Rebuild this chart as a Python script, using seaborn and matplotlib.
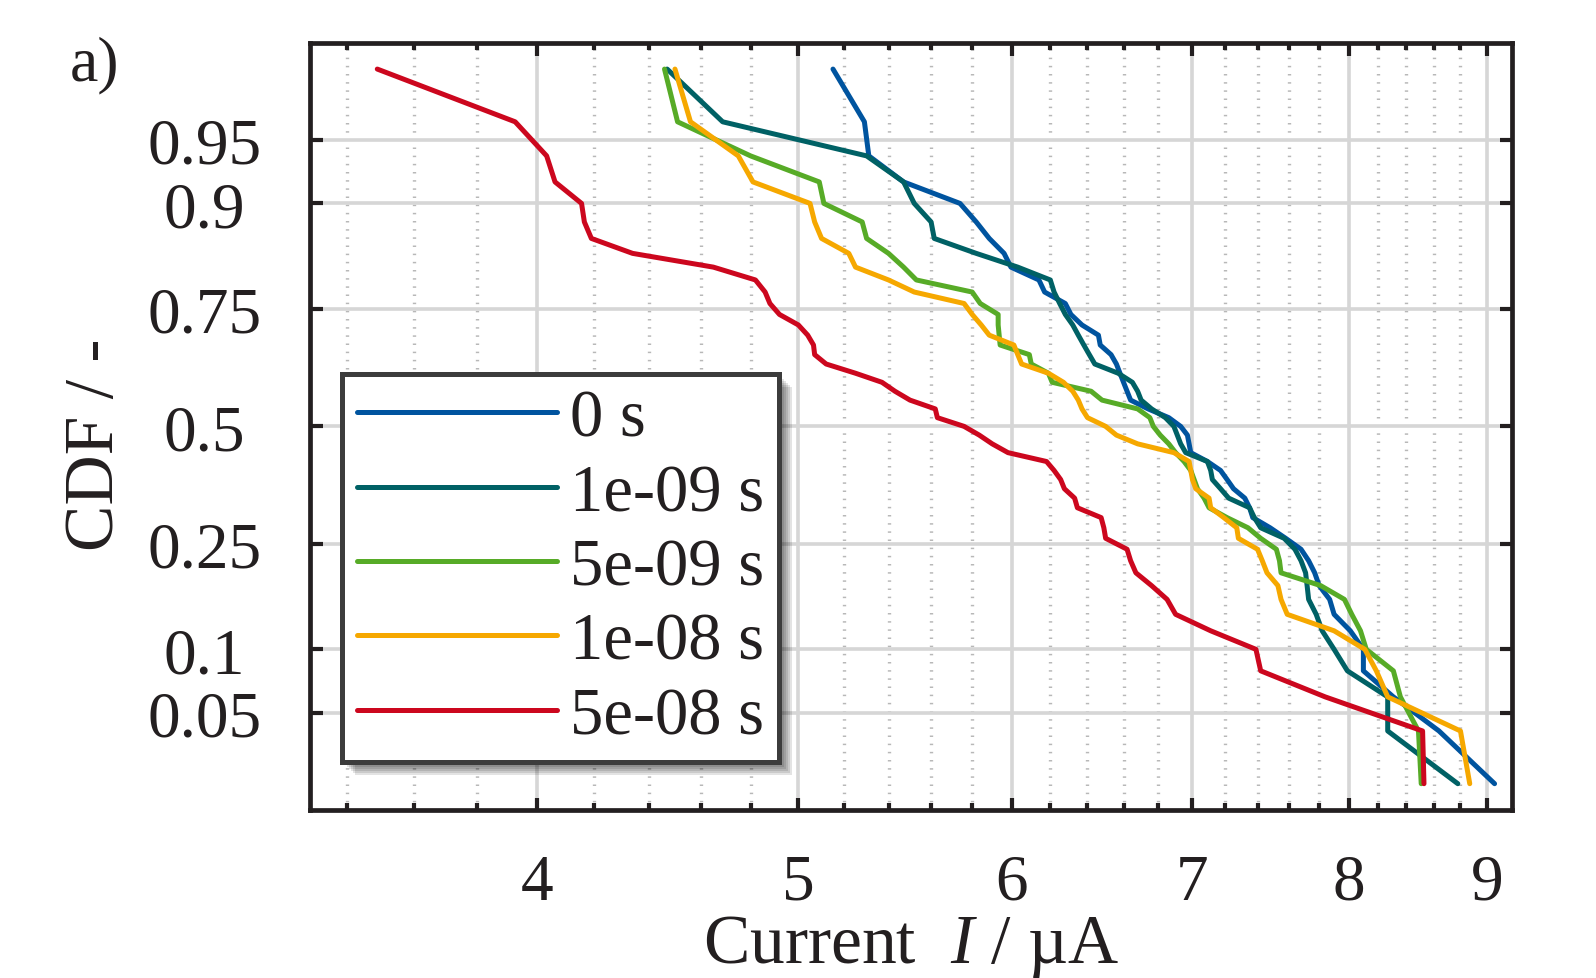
import numpy as np
import pandas as pd
import matplotlib
matplotlib.use("Agg")
import matplotlib.pyplot as plt
import seaborn as sns
from matplotlib.ticker import FixedLocator, NullFormatter
from matplotlib.lines import Line2D
from matplotlib.patches import Rectangle
from matplotlib.transforms import IdentityTransform
from statistics import NormalDist

# --- DATI (corrente in uA per ciascun rango, da CDF=0.02 in basso a CDF=0.98 in alto) ---
cdf_levels = np.arange(1, 50) / 50  # 49 ranghi della CDF empirica

cur_0s = [9.06, 8.64, 8.31, 8.10, 8.10, 8.01, 7.90, 7.87, 7.80, 7.77,
          7.73, 7.68, 7.58, 7.48, 7.37, 7.35, 7.32, 7.25, 7.21, 7.17,
          7.09, 6.99, 6.98, 6.97, 6.93, 6.86, 6.74, 6.64, 6.62, 6.60,
          6.58, 6.56, 6.53, 6.47, 6.46, 6.37, 6.31, 6.28, 6.17, 6.14,
          5.995, 5.96, 5.885, 5.82, 5.74, 5.47, 5.31, 5.29, 5.15]
cur_1ns = [8.78, 8.27, 8.27, 7.99, 7.90, 7.82, 7.78, 7.73, 7.72, 7.71,
           7.68, 7.64, 7.57, 7.42, 7.38, 7.35, 7.22, 7.17, 7.12, 7.11,
           7.09, 6.96, 6.93, 6.91, 6.89, 6.84, 6.76, 6.70, 6.68, 6.65,
           6.57, 6.44, 6.41, 6.38, 6.35, 6.32, 6.28, 6.25, 6.22, 6.20,
           6.03, 5.82, 5.615, 5.60, 5.52, 5.47, 5.30, 4.687, 4.47]
cur_5ns = [8.51, 8.49, 8.36, 8.31, 8.12, 8.08, 8.02, 7.97, 7.81, 7.55,
           7.54, 7.52, 7.42, 7.34, 7.21, 7.10, 7.07, 7.03, 7.01, 6.99,
           6.95, 6.90, 6.86, 6.81, 6.77, 6.75, 6.68, 6.48, 6.42, 6.21,
           6.19, 6.10, 6.09, 5.94, 5.935, 5.93, 5.93, 5.84, 5.80, 5.53,
           5.47, 5.40, 5.30, 5.28, 5.11, 5.09, 4.80, 4.51, 4.46]
cur_10ns = [8.87, 8.80, 8.27, 8.19, 8.11, 7.90, 7.59, 7.55, 7.53, 7.46,
            7.43, 7.40, 7.28, 7.27, 7.19, 7.11, 7.10, 7.02, 7.00, 6.99,
            6.98, 6.89, 6.68, 6.56, 6.50, 6.40, 6.37, 6.35, 6.32, 6.27,
            6.19, 6.05, 6.03, 6.01, 5.885, 5.845, 5.80, 5.76, 5.52, 5.40,
            5.25, 5.22, 5.10, 5.07, 5.05, 4.81, 4.75, 4.56, 4.50]
cur_50ns = [8.53, 8.52, 7.84, 7.42, 7.39, 7.11, 6.90, 6.85, 6.76, 6.67,
            6.64, 6.62, 6.50, 6.49, 6.475, 6.345, 6.33, 6.275, 6.255, 6.22,
            6.18, 5.98, 5.90, 5.835, 5.76, 5.63, 5.62, 5.50, 5.43, 5.37,
            5.25, 5.12, 5.07, 5.065, 5.04, 5.00, 4.92, 4.88, 4.86, 4.82,
            4.65, 4.34, 4.19, 4.165, 4.155, 4.062, 4.033, 3.926, 3.49]

serie_labels = ["0 s", "1e-09 s", "5e-09 s", "1e-08 s", "5e-08 s"]
serie_colori = ["#00549F", "#006165", "#57AB27", "#F6A800", "#CC071E"]

x_major = [4, 5, 6, 7, 8, 9]
x_minor = [round(v, 1) for v in np.arange(3.4, 9.0, 0.2) if abs(v - round(v)) > 1e-6]
y_ticks = [0.05, 0.1, 0.25, 0.5, 0.75, 0.9, 0.95]
y_ticklabels = ["0.05", "0.1", "0.25", "0.5", "0.75", "0.9", "0.95"]

# --- scala di probabilita normale (probit) ---
ND = NormalDist()


def _probit(p):
    if not np.isfinite(p):
        return np.nan
    return ND.inv_cdf(min(max(p, 1e-9), 1 - 1e-9))


probit = np.vectorize(_probit, otypes=[float])
inv_probit = np.vectorize(lambda z: ND.cdf(z) if np.isfinite(z) else np.nan, otypes=[float])

# --- tabella long-form per seaborn ---
df = pd.concat([
    pd.DataFrame({"I": cur, "CDF": cdf_levels, "serie": lab})
    for cur, lab in zip([cur_0s, cur_1ns, cur_5ns, cur_10ns, cur_50ns], serie_labels)
], ignore_index=True)

sns.set_style("ticks")
nero = "#231f20"
plt.rcParams["font.family"] = ["Liberation Serif", "DejaVu Serif"]
plt.rcParams["mathtext.fontset"] = "custom"
plt.rcParams["mathtext.rm"] = "Liberation Serif"
plt.rcParams["mathtext.it"] = "Liberation Serif:italic"
plt.rcParams["text.color"] = nero
plt.rcParams["axes.labelcolor"] = nero

fig = plt.figure(figsize=(15.96, 9.79), dpi=100)
ax = fig.add_axes([0.1942, 0.1716, 0.7531, 0.7837])

sns.lineplot(data=df, x="I", y="CDF", hue="serie", hue_order=serie_labels,
             palette=serie_colori, estimator=None, sort=False, lw=3.6,
             legend=False, ax=ax)

ax.set_xscale("log")
ax.set_yscale("function", functions=(probit, inv_probit))
ax.set_xlim(3.295, 9.195)
ax.set_ylim(ND.cdf(-2.205), ND.cdf(2.205))

ax.xaxis.set_major_locator(FixedLocator(x_major))
ax.xaxis.set_minor_locator(FixedLocator(x_minor))
ax.xaxis.set_minor_formatter(NullFormatter())
ax.set_xticks(x_major, labels=[str(v) for v in x_major])
ax.set_yticks(y_ticks, labels=y_ticklabels, ha="center")
ax.yaxis.set_minor_locator(FixedLocator([]))

# griglia: principale continua, secondaria x punteggiata
ax.set_axisbelow(True)
ax.grid(which="major", color="#d6d6d6", lw=2.6, ls="-")
ax.xaxis.grid(which="minor", color="#b8b8b8", lw=2.4, ls=(0, (0.45, 2.0)))

for s in ax.spines.values():
    s.set_linewidth(3.4)
    s.set_color(nero)
    s.set_visible(True)

ax.tick_params(which="both", direction="in", top=True, right=True, colors=nero)
ax.tick_params(which="major", length=9, width=3)
ax.tick_params(which="minor", length=5, width=3)
ax.tick_params(axis="x", which="major", labelsize=47, pad=31)
ax.tick_params(axis="y", which="major", labelsize=47, pad=76)

ax.set_xlabel("Current  $I$ / µA", fontsize=50, labelpad=0)
ax.set_ylabel("CDF / -", fontsize=50)
ax.yaxis.set_label_coords(-0.151, 0.478)

fig.text(70 / 1596, 1 - 80 / 979, "a)", fontsize=46, va="baseline", ha="left")

# --- legenda con ombra ---
maniglie = [Line2D([], [], color=c, lw=3.6) for c in serie_colori]
leg = ax.legend(maniglie, serie_labels, loc="lower left", bbox_to_anchor=(0.027, 0.063),
                borderaxespad=0, frameon=True, fancybox=False, framealpha=1,
                edgecolor="#3c3c3c", fontsize=48, handlelength=3.0,
                handletextpad=0.2, labelspacing=0.2, borderpad=0.22)
leg.get_frame().set_linewidth(3.6)

fig.canvas.draw()
bb = leg.get_frame().get_window_extent()
for d in (3, 5, 7, 9, 11, 13):
    ombra = Rectangle((bb.x0 + d, bb.y0 - d), bb.width, bb.height,
                      transform=IdentityTransform(), facecolor="black",
                      edgecolor="none", alpha=0.11, zorder=4.9, clip_on=False)
    ax.add_artist(ombra)

fig.savefig("out.png", dpi=100)
